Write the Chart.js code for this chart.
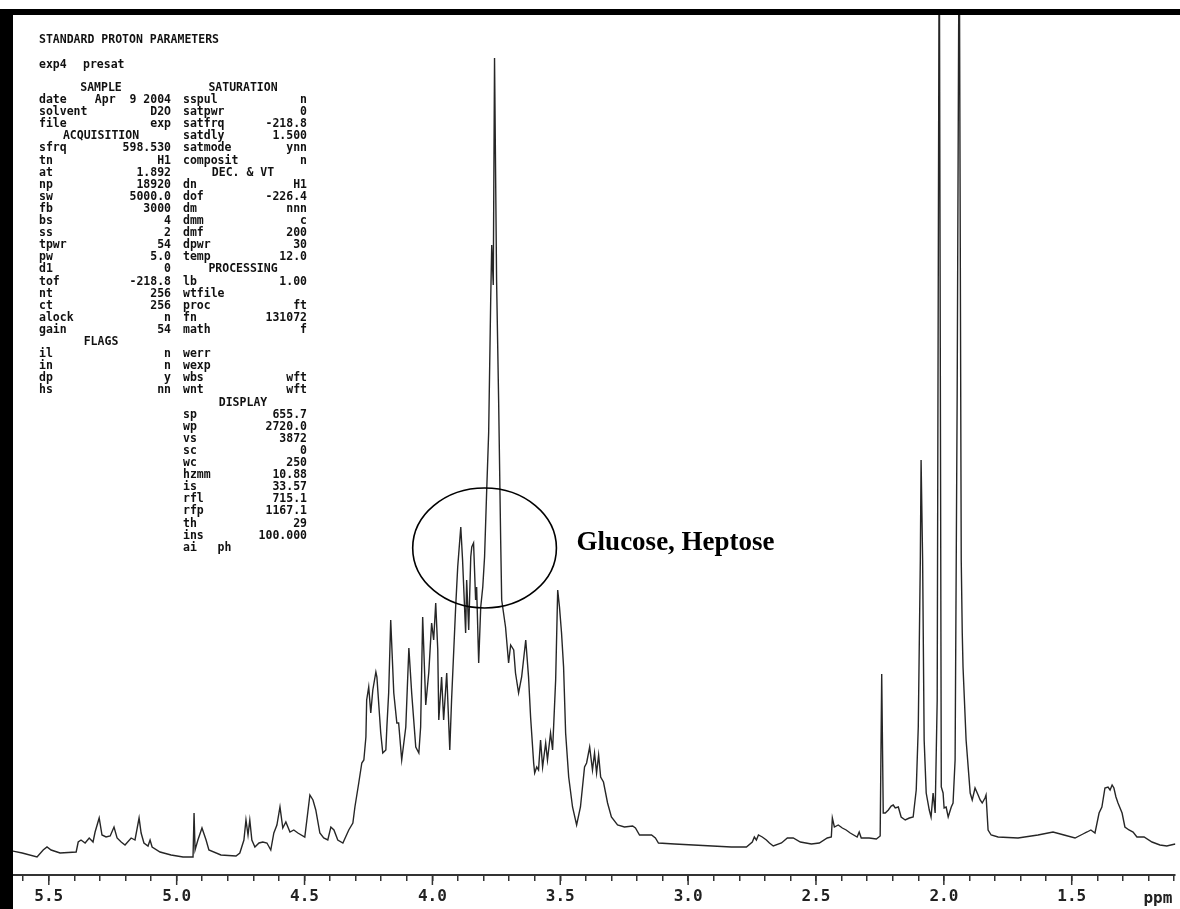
<!DOCTYPE html>
<html>
<head>
<meta charset="utf-8">
<script src="https://cdn.jsdelivr.net/npm/chart.js@4.4.1/dist/chart.umd.min.js"></script>
<style>
  html, body { margin: 0; padding: 0; background: #fff; }
  #wrap { width: 1180px; height: 909px; position: relative; }
</style>
</head>
<body>
<div id="wrap"><canvas id="c" width="1180" height="909"></canvas></div>
<script>
// ---- Spectrum data (chemical shift in ppm, relative intensity) ----
const ppm = [5.643,5.604,5.546,5.522,5.507,5.491,5.456,5.393,5.385,5.374,5.358,5.342,5.327,5.319,5.303,5.292,5.276,5.260,5.245,5.233,5.217,5.202,5.178,5.163,5.147,5.139,5.128,5.112,5.104,5.096,5.065,5.022,4.975,4.936,
4.932,4.928,4.917,4.901,4.885,4.874,4.827,4.768,4.753,4.737,4.729,4.721,4.714,4.706,4.694,4.678,4.663,4.647,4.632,4.620,4.608,4.596,4.585,4.573,4.557,4.542,4.526,4.499,
4.479,4.467,4.456,4.440,4.425,4.409,4.397,4.385,4.370,4.350,4.327,4.311,4.303,
4.288,4.276,4.268,4.260,4.257,4.249,4.241,4.233,4.221,4.217,4.202,4.194,4.182,4.178,4.171,4.163,4.151,4.139,4.132,4.120,4.104,4.092,4.081,4.065,4.053,4.046,4.038,4.026,4.014,4.003,3.995,3.987,3.979,3.975,3.964,3.956,3.944,
3.932,3.925,3.909,3.901,3.889,3.882,3.870,3.866,3.858,3.850,3.846,3.839,3.831,3.827,3.819,3.811,3.803,3.796,3.788,3.780,3.772,3.768,3.762,3.757,
3.749,3.741,3.733,3.729,3.714,3.702,3.694,3.682,3.675,3.663,3.651,3.635,3.632,3.624,3.616,3.604,3.600,3.592,3.585,3.577,3.569,3.557,3.550,3.538,3.530,3.526,3.518,3.510,3.503,3.495,3.487,3.479,3.467,3.452,3.436,3.421,
3.405,3.397,3.385,3.374,3.366,3.358,3.350,3.342,3.331,3.315,3.300,3.276,3.249,3.217,3.206,3.190,3.143,3.128,3.116,3.053,2.979,2.905,2.831,2.772,
2.749,2.741,2.733,2.725,2.710,2.694,2.682,2.667,2.635,2.612,2.589,2.561,2.518,2.487,2.456,2.440,2.436,2.428,2.413,2.397,2.382,2.366,2.339,2.331,2.323,2.292,2.264,2.249,
2.243,2.237,2.229,2.217,2.206,2.198,2.190,2.178,2.167,2.151,2.135,2.120,2.108,2.100,2.092,2.089,2.083,2.077,2.069,2.057,2.050,2.042,2.034,2.026,2.018,2.010,2.003,1.999,1.991,1.983,1.971,1.964,1.956,1.948,1.940,1.932,1.928,
1.925,1.913,1.897,1.889,1.878,1.866,1.858,1.850,1.839,1.835,1.827,1.815,1.788,1.710,1.632,1.573,1.530,1.487,1.456,1.440,1.425,1.409,1.393,1.382,1.370,1.358,1.350,1.342,1.335,1.327,1.319,1.303,1.292,1.276,1.260,1.245,1.217,1.186,1.155,1.128,1.096,1.085];

const intensity = [24,22,18,25,28,25,22,23,33,35,32,37,33,43,57,40,38,39,48,37,33,30,37,35,57,42,32,29,35,28,23,20,18,18,
62,25,35,47,35,25,20,19,22,35,55,40,55,35,28,32,33,32,25,42,50,68,47,53,43,45,42,38,
80,75,65,42,37,35,48,45,35,32,45,52,68,
92,112,115,138,175,188,162,185,203,198,142,122,125,148,182,255,182,152,152,115,148,227,182,128,122,148,258,170,203,252,235,272,225,155,198,155,202,
125,175,268,308,348,315,242,295,245,318,328,332,275,288,212,268,288,318,382,442,575,630,590,817,
595,475,335,275,248,212,230,225,202,182,198,235,225,198,158,112,102,108,105,135,108,132,115,142,125,148,195,285,268,242,208,142,98,68,50,68,
108,112,128,105,122,102,120,98,93,72,58,50,48,49,47,40,40,37,32,31,30,29,28,28,
33,38,35,40,38,35,32,29,32,37,37,33,31,32,37,38,57,48,50,47,45,42,38,43,37,37,36,39,
201,62,62,65,69,70,67,68,58,55,57,58,85,148,315,415,315,135,82,65,58,82,62,175,980,88,82,67,68,58,68,72,115,475,980,315,242,
208,135,82,75,87,80,75,72,77,80,45,40,38,37,40,43,40,37,41,43,45,42,62,68,87,88,85,90,87,78,72,62,48,45,43,38,38,33,30,29,31,30];

// ---- Axis (plot window from sp = 655.7 Hz, wp = 2720.0 Hz at 598.53 MHz) ----
const xRange = [1.0955, 5.640];
const yRange = [0, 860];
const tickValues = [5.6,5.5,5.4,5.3,5.2,5.1,5.0,4.9,4.8,4.7,4.6,4.5,4.4,4.3,4.2,4.1,4.0,3.9,3.8,3.7,3.6,3.5,3.4,3.3,3.2,3.1,3.0,2.9,2.8,2.7,2.6,2.5,2.4,2.3,2.2,2.1,2.0,1.9,1.8,1.7,1.6,1.5,1.4,1.3,1.2,1.1];
const unitLabel = 'ppm';
const unitLabelAt = 1.163;

// ---- Annotation ----
const circledRegion = { ppm: 3.796, intensity: 327, ppmRadius: 0.281, intensityRadius: 60 };
const annotationText = 'Glucose, Heptose';
const annotationAt = { ppm: 3.436, intensity: 327 };

// ---- Acquisition parameter listing ----
const paramTitle = 'STANDARD PROTON PARAMETERS';
const paramExp = ['exp4', 'presat'];
const leftHeader = 'SAMPLE';
const rightHeader = 'SATURATION';
const leftRows = [
  ['date','Apr  9 2004'],['solvent','D2O'],['file','exp'],['#ACQUISITION'],['sfrq','598.530'],['tn','H1'],
  ['at','1.892'],['np','18920'],['sw','5000.0'],['fb','3000'],['bs','4'],['ss','2'],['tpwr','54'],['pw','5.0'],
  ['d1','0'],['tof','-218.8'],['nt','256'],['ct','256'],['alock','n'],['gain','54'],['#FLAGS'],
  ['il','n'],['in','n'],['dp','y'],['hs','nn']
];
const rightRows = [
  ['sspul','n'],['satpwr','0'],['satfrq','-218.8'],['satdly','1.500'],['satmode','ynn'],['composit','n'],
  ['#DEC. & VT'],['dn','H1'],['dof','-226.4'],['dm','nnn'],['dmm','c'],['dmf','200'],['dpwr','30'],['temp','12.0'],
  ['#PROCESSING'],['lb','1.00'],['wtfile',''],['proc','ft'],['fn','131072'],['math','f'],['',''],
  ['werr',''],['wexp',''],['wbs','wft'],['wnt','wft'],['#DISPLAY'],['sp','655.7'],['wp','2720.0'],['vs','3872'],
  ['sc','0'],['wc','250'],['hzmm','10.88'],['is','33.57'],['rfl','715.1'],['rfp','1167.1'],['th','29'],
  ['ins','100.000'],['ai   ph','']
];

const isMajor = v => Math.abs(v * 2 - Math.round(v * 2)) < 1e-6;

const overlay = {
  id: 'overlay',
  afterDraw(chart) {
    const ctx = chart.ctx, xs = chart.scales.x, ys = chart.scales.y;
    const axisY = chart.chartArea.bottom;
    ctx.save();
    // longer major ticks
    ctx.strokeStyle = '#333'; ctx.lineWidth = 1.5;
    tickValues.filter(isMajor).forEach(v => {
      const x = xs.getPixelForValue(v);
      ctx.beginPath(); ctx.moveTo(x, axisY); ctx.lineTo(x, axisY + 10); ctx.stroke();
    });
    // unit label
    ctx.fillStyle = '#222';
    ctx.font = 'bold 16px "DejaVu Sans Mono"';
    ctx.textAlign = 'center'; ctx.textBaseline = 'middle';
    ctx.fillText(unitLabel, xs.getPixelForValue(unitLabelAt), axisY + 24);

    // circle around region
    const cx = xs.getPixelForValue(circledRegion.ppm), cy = ys.getPixelForValue(circledRegion.intensity);
    const rx = Math.abs(xs.getPixelForValue(circledRegion.ppm - circledRegion.ppmRadius) - cx);
    const ry = Math.abs(ys.getPixelForValue(circledRegion.intensity + circledRegion.intensityRadius) - cy);
    ctx.strokeStyle = '#000'; ctx.lineWidth = 1.6;
    ctx.beginPath(); ctx.ellipse(cx, cy, rx, ry, 0, 0, Math.PI * 2); ctx.stroke();

    ctx.fillStyle = '#000';
    ctx.font = 'bold 27px "Liberation Serif"';
    ctx.textAlign = 'left'; ctx.textBaseline = 'alphabetic';
    ctx.fillText(annotationText, xs.getPixelForValue(annotationAt.ppm), ys.getPixelForValue(annotationAt.intensity) + 2);

    // parameter listing
    ctx.fillStyle = '#111';
    ctx.font = 'bold 11.5px "DejaVu Sans Mono"';
    ctx.textBaseline = 'middle';
    ctx.textAlign = 'left';
    ctx.fillText(paramTitle, 39, 40);
    ctx.fillText(paramExp[0], 39, 65);
    ctx.fillText(paramExp[1], 83, 65);
    const row0 = 88, dy = 12.1;
    const L = { lab: 39, val: 171, ctr: 101 }, R = { lab: 183, val: 307, ctr: 243 };
    ctx.textAlign = 'center';
    ctx.fillText(leftHeader, L.ctr, row0);
    ctx.fillText(rightHeader, R.ctr, row0);
    const drawCol = (rows, c) => rows.forEach((r, i) => {
      const y = row0 + (i + 1) * dy;
      if (r[0].startsWith('#')) {
        ctx.textAlign = 'center'; ctx.fillText(r[0].slice(1), c.ctr, y);
      } else {
        ctx.textAlign = 'left'; ctx.fillText(r[0], c.lab, y);
        ctx.textAlign = 'right'; ctx.fillText(r[1], c.val, y);
      }
    });
    drawCol(leftRows, L);
    drawCol(rightRows, R);

    // frame bars
    ctx.fillStyle = '#000';
    ctx.fillRect(0, 9, chart.width, 6);
    ctx.fillRect(0, 9, 13, chart.height - 9);
    ctx.restore();
  }
};

new Chart(document.getElementById('c'), {
  type: 'line',
  data: {
    datasets: [{
      data: ppm.map((p, i) => ({ x: p, y: intensity[i] })),
      borderColor: '#262626',
      borderWidth: 1.4,
      pointRadius: 0,
      tension: 0,
      fill: false
    }]
  },
  options: {
    responsive: false,
    animation: false,
    layout: { padding: { left: 13, top: 15, right: 0, bottom: 0 } },
    plugins: { legend: { display: false }, tooltip: { enabled: false } },
    scales: {
      x: {
        type: 'linear',
        reverse: true,
        min: xRange[0], max: xRange[1],
        afterBuildTicks: s => { s.ticks = tickValues.map(v => ({ value: v })); },
        afterFit: s => { s.height = 34; },
        grid: { drawOnChartArea: false, drawTicks: true, tickLength: 6, color: '#333', lineWidth: 1.5 },
        border: { display: true, color: '#333', width: 2 },
        ticks: {
          autoSkip: false, maxRotation: 0, padding: 6,
          color: '#222',
          font: { family: 'DejaVu Sans Mono', size: 16, weight: 'bold' },
          callback: v => isMajor(v) ? v.toFixed(1) : ''
        }
      },
      y: { display: false, min: yRange[0], max: yRange[1] }
    }
  },
  plugins: [overlay]
});
</script>
</body>
</html>
